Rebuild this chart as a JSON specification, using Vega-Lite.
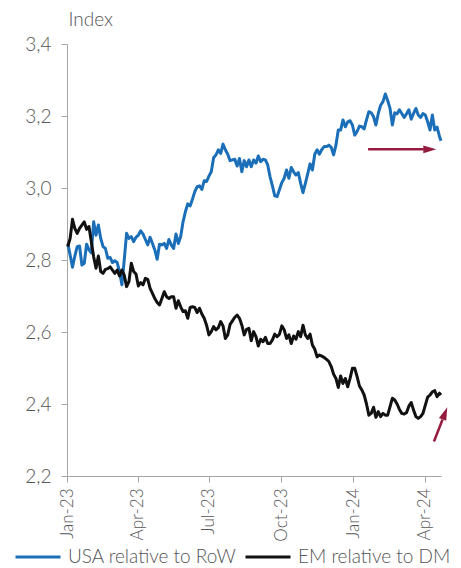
{
  "$schema": "https://vega.github.io/schema/vega-lite/v6.json",
  "width": 374,
  "height": 432,
  "autosize": {"type": "none"},
  "padding": {"left": 67, "top": 44, "right": 20, "bottom": 92},
  "config": {
    "view": {"stroke": null},
    "font": "Lato",
    "axis": {
      "grid": false,
      "domainColor": "#a6a6a6",
      "tickColor": "#a6a6a6",
      "labelColor": "#555555",
      "titleColor": "#555555",
      "labelFont": "Lato",
      "titleFont": "Lato",
      "labelFontWeight": 300,
      "titleFontWeight": 300
    }
  },
  "datasets": {
    "indices": [
      {"date": "2023-01-02", "usa": 2.846, "em": 2.837},
      {"date": "2023-01-05", "usa": 2.814, "em": 2.860},
      {"date": "2023-01-08", "usa": 2.780, "em": 2.913},
      {"date": "2023-01-11", "usa": 2.811, "em": 2.888},
      {"date": "2023-01-14", "usa": 2.837, "em": 2.874},
      {"date": "2023-01-17", "usa": 2.839, "em": 2.888},
      {"date": "2023-01-20", "usa": 2.786, "em": 2.897},
      {"date": "2023-01-23", "usa": 2.791, "em": 2.906},
      {"date": "2023-01-26", "usa": 2.844, "em": 2.885},
      {"date": "2023-01-29", "usa": 2.828, "em": 2.893},
      {"date": "2023-02-01", "usa": 2.820, "em": 2.851},
      {"date": "2023-02-04", "usa": 2.906, "em": 2.809},
      {"date": "2023-02-07", "usa": 2.869, "em": 2.777},
      {"date": "2023-02-10", "usa": 2.897, "em": 2.811},
      {"date": "2023-02-13", "usa": 2.860, "em": 2.768},
      {"date": "2023-02-16", "usa": 2.837, "em": 2.763},
      {"date": "2023-02-19", "usa": 2.832, "em": 2.774},
      {"date": "2023-02-22", "usa": 2.805, "em": 2.776},
      {"date": "2023-02-25", "usa": 2.807, "em": 2.781},
      {"date": "2023-02-28", "usa": 2.793, "em": 2.772},
      {"date": "2023-03-03", "usa": 2.798, "em": 2.763},
      {"date": "2023-03-06", "usa": 2.793, "em": 2.772},
      {"date": "2023-03-09", "usa": 2.768, "em": 2.756},
      {"date": "2023-03-12", "usa": 2.731, "em": 2.772},
      {"date": "2023-03-15", "usa": 2.800, "em": 2.758},
      {"date": "2023-03-18", "usa": 2.874, "em": 2.726},
      {"date": "2023-03-21", "usa": 2.860, "em": 2.740},
      {"date": "2023-03-24", "usa": 2.865, "em": 2.791},
      {"date": "2023-03-27", "usa": 2.851, "em": 2.768},
      {"date": "2023-03-30", "usa": 2.863, "em": 2.761},
      {"date": "2023-04-02", "usa": 2.869, "em": 2.728},
      {"date": "2023-04-05", "usa": 2.881, "em": 2.737},
      {"date": "2023-04-08", "usa": 2.872, "em": 2.731},
      {"date": "2023-04-11", "usa": 2.857, "em": 2.749},
      {"date": "2023-04-14", "usa": 2.842, "em": 2.746},
      {"date": "2023-04-17", "usa": 2.863, "em": 2.721},
      {"date": "2023-04-20", "usa": 2.846, "em": 2.707},
      {"date": "2023-04-23", "usa": 2.828, "em": 2.693},
      {"date": "2023-04-26", "usa": 2.802, "em": 2.682},
      {"date": "2023-04-29", "usa": 2.844, "em": 2.675},
      {"date": "2023-05-02", "usa": 2.842, "em": 2.693},
      {"date": "2023-05-05", "usa": 2.846, "em": 2.712},
      {"date": "2023-05-08", "usa": 2.832, "em": 2.698},
      {"date": "2023-05-11", "usa": 2.857, "em": 2.693},
      {"date": "2023-05-14", "usa": 2.842, "em": 2.698},
      {"date": "2023-05-17", "usa": 2.832, "em": 2.698},
      {"date": "2023-05-20", "usa": 2.872, "em": 2.666},
      {"date": "2023-05-23", "usa": 2.846, "em": 2.687},
      {"date": "2023-05-26", "usa": 2.865, "em": 2.670},
      {"date": "2023-05-29", "usa": 2.906, "em": 2.657},
      {"date": "2023-06-01", "usa": 2.934, "em": 2.659},
      {"date": "2023-06-04", "usa": 2.956, "em": 2.638},
      {"date": "2023-06-07", "usa": 2.950, "em": 2.668},
      {"date": "2023-06-10", "usa": 2.969, "em": 2.670},
      {"date": "2023-06-13", "usa": 2.990, "em": 2.668},
      {"date": "2023-06-16", "usa": 3.004, "em": 2.654},
      {"date": "2023-06-19", "usa": 3.006, "em": 2.666},
      {"date": "2023-06-22", "usa": 2.996, "em": 2.650},
      {"date": "2023-06-25", "usa": 3.020, "em": 2.638},
      {"date": "2023-06-28", "usa": 3.018, "em": 2.619},
      {"date": "2023-07-01", "usa": 3.033, "em": 2.592},
      {"date": "2023-07-04", "usa": 3.045, "em": 2.601},
      {"date": "2023-07-07", "usa": 3.084, "em": 2.615},
      {"date": "2023-07-10", "usa": 3.092, "em": 2.606},
      {"date": "2023-07-13", "usa": 3.106, "em": 2.612},
      {"date": "2023-07-16", "usa": 3.096, "em": 2.629},
      {"date": "2023-07-19", "usa": 3.122, "em": 2.617},
      {"date": "2023-07-22", "usa": 3.106, "em": 2.582},
      {"date": "2023-07-25", "usa": 3.094, "em": 2.592},
      {"date": "2023-07-28", "usa": 3.076, "em": 2.621},
      {"date": "2023-07-31", "usa": 3.078, "em": 2.631},
      {"date": "2023-08-03", "usa": 3.080, "em": 2.641},
      {"date": "2023-08-06", "usa": 3.061, "em": 2.647},
      {"date": "2023-08-09", "usa": 3.082, "em": 2.638},
      {"date": "2023-08-12", "usa": 3.045, "em": 2.619},
      {"date": "2023-08-15", "usa": 3.076, "em": 2.592},
      {"date": "2023-08-18", "usa": 3.059, "em": 2.607},
      {"date": "2023-08-21", "usa": 3.078, "em": 2.610},
      {"date": "2023-08-24", "usa": 3.059, "em": 2.576},
      {"date": "2023-08-27", "usa": 3.078, "em": 2.601},
      {"date": "2023-08-30", "usa": 3.069, "em": 2.587},
      {"date": "2023-09-02", "usa": 3.089, "em": 2.561},
      {"date": "2023-09-05", "usa": 3.073, "em": 2.580},
      {"date": "2023-09-08", "usa": 3.080, "em": 2.573},
      {"date": "2023-09-11", "usa": 3.078, "em": 2.585},
      {"date": "2023-09-14", "usa": 3.064, "em": 2.568},
      {"date": "2023-09-17", "usa": 3.031, "em": 2.568},
      {"date": "2023-09-20", "usa": 3.006, "em": 2.578},
      {"date": "2023-09-23", "usa": 2.978, "em": 2.594},
      {"date": "2023-09-26", "usa": 2.976, "em": 2.587},
      {"date": "2023-09-29", "usa": 2.996, "em": 2.594},
      {"date": "2023-10-02", "usa": 3.015, "em": 2.617},
      {"date": "2023-10-05", "usa": 3.027, "em": 2.606},
      {"date": "2023-10-08", "usa": 3.050, "em": 2.582},
      {"date": "2023-10-11", "usa": 3.027, "em": 2.592},
      {"date": "2023-10-14", "usa": 3.057, "em": 2.568},
      {"date": "2023-10-17", "usa": 3.045, "em": 2.589},
      {"date": "2023-10-20", "usa": 3.036, "em": 2.580},
      {"date": "2023-10-23", "usa": 3.043, "em": 2.601},
      {"date": "2023-10-26", "usa": 3.013, "em": 2.587},
      {"date": "2023-10-29", "usa": 2.987, "em": 2.619},
      {"date": "2023-11-01", "usa": 3.013, "em": 2.592},
      {"date": "2023-11-04", "usa": 3.039, "em": 2.582},
      {"date": "2023-11-07", "usa": 3.067, "em": 2.594},
      {"date": "2023-11-10", "usa": 3.050, "em": 2.564},
      {"date": "2023-11-13", "usa": 3.094, "em": 2.552},
      {"date": "2023-11-16", "usa": 3.106, "em": 2.531},
      {"date": "2023-11-19", "usa": 3.094, "em": 2.536},
      {"date": "2023-11-22", "usa": 3.107, "em": 2.533},
      {"date": "2023-11-25", "usa": 3.115, "em": 2.529},
      {"date": "2023-11-28", "usa": 3.115, "em": 2.524},
      {"date": "2023-12-01", "usa": 3.119, "em": 2.518},
      {"date": "2023-12-04", "usa": 3.113, "em": 2.504},
      {"date": "2023-12-07", "usa": 3.092, "em": 2.483},
      {"date": "2023-12-10", "usa": 3.119, "em": 2.471},
      {"date": "2023-12-13", "usa": 3.161, "em": 2.446},
      {"date": "2023-12-16", "usa": 3.161, "em": 2.478},
      {"date": "2023-12-19", "usa": 3.189, "em": 2.457},
      {"date": "2023-12-22", "usa": 3.170, "em": 2.471},
      {"date": "2023-12-25", "usa": 3.184, "em": 2.448},
      {"date": "2023-12-28", "usa": 3.187, "em": 2.471},
      {"date": "2023-12-31", "usa": 3.175, "em": 2.499},
      {"date": "2024-01-03", "usa": 3.147, "em": 2.499},
      {"date": "2024-01-06", "usa": 3.157, "em": 2.476},
      {"date": "2024-01-09", "usa": 3.172, "em": 2.450},
      {"date": "2024-01-12", "usa": 3.170, "em": 2.439},
      {"date": "2024-01-15", "usa": 3.164, "em": 2.425},
      {"date": "2024-01-18", "usa": 3.189, "em": 2.400},
      {"date": "2024-01-21", "usa": 3.212, "em": 2.369},
      {"date": "2024-01-24", "usa": 3.209, "em": 2.374},
      {"date": "2024-01-27", "usa": 3.198, "em": 2.391},
      {"date": "2024-01-30", "usa": 3.175, "em": 2.363},
      {"date": "2024-02-02", "usa": 3.207, "em": 2.379},
      {"date": "2024-02-05", "usa": 3.230, "em": 2.365},
      {"date": "2024-02-08", "usa": 3.240, "em": 2.374},
      {"date": "2024-02-11", "usa": 3.261, "em": 2.369},
      {"date": "2024-02-14", "usa": 3.243, "em": 2.369},
      {"date": "2024-02-17", "usa": 3.221, "em": 2.393},
      {"date": "2024-02-20", "usa": 3.175, "em": 2.416},
      {"date": "2024-02-23", "usa": 3.209, "em": 2.411},
      {"date": "2024-02-26", "usa": 3.206, "em": 2.400},
      {"date": "2024-02-29", "usa": 3.217, "em": 2.385},
      {"date": "2024-03-03", "usa": 3.207, "em": 2.374},
      {"date": "2024-03-06", "usa": 3.196, "em": 2.372},
      {"date": "2024-03-09", "usa": 3.206, "em": 2.376},
      {"date": "2024-03-12", "usa": 3.217, "em": 2.394},
      {"date": "2024-03-15", "usa": 3.191, "em": 2.404},
      {"date": "2024-03-18", "usa": 3.207, "em": 2.383},
      {"date": "2024-03-21", "usa": 3.221, "em": 2.365},
      {"date": "2024-03-24", "usa": 3.203, "em": 2.360},
      {"date": "2024-03-27", "usa": 3.196, "em": 2.365},
      {"date": "2024-03-30", "usa": 3.207, "em": 2.374},
      {"date": "2024-04-02", "usa": 3.203, "em": 2.397},
      {"date": "2024-04-05", "usa": 3.184, "em": 2.419},
      {"date": "2024-04-08", "usa": 3.161, "em": 2.425},
      {"date": "2024-04-11", "usa": 3.203, "em": 2.434},
      {"date": "2024-04-14", "usa": 3.161, "em": 2.437},
      {"date": "2024-04-17", "usa": 3.169, "em": 2.420},
      {"date": "2024-04-20", "usa": 3.144, "em": 2.430},
      {"date": "2024-04-22", "usa": 3.131, "em": 2.425}
    ],
    "arrowShafts": [
      {"date": "2024-01-20", "value": 3.1075, "date2": "2024-03-31", "value2": 3.1075},
      {"date": "2024-04-13", "value": 2.296, "date2": "2024-04-24", "value2": 2.357}
    ],
    "arrowTipFlat": [
      {"date": "2024-04-16", "value": 3.1075}
    ],
    "arrowTipRising": [
      {"date": "2024-04-30", "value": 2.391}
    ]
  },
  "layer": [
    {
      "data": {"name": "indices"},
      "transform": [{"fold": ["usa", "em"], "as": ["series", "value"]}],
      "mark": {"type": "line", "strokeWidth": 3, "strokeJoin": "round"},
      "encoding": {
        "x": {
          "field": "date",
          "type": "temporal",
          "scale": {
            "type": "utc",
            "domain": [
              {"year": 2023, "month": 1, "date": 1, "utc": true},
              {"year": 2024, "month": 4, "date": 22, "utc": true}
            ]
          },
          "axis": {
            "title": null,
            "format": "%b-%y",
            "tickCount": {"interval": "month", "step": 3},
            "labelAngle": -90,
            "labelFontSize": 17,
            "labelPadding": 6,
            "labelFlush": false,
            "labelOverlap": false,
            "tickSize": 6
          }
        },
        "y": {
          "field": "value",
          "type": "quantitative",
          "scale": {"domain": [2.2, 3.4], "nice": false, "zero": false},
          "axis": {
            "title": "Index",
            "titleAngle": 0,
            "titleAlign": "left",
            "titleBaseline": "alphabetic",
            "titleX": 1,
            "titleY": -19,
            "titleFontSize": 19,
            "values": [2.2, 2.4, 2.6, 2.8, 3.0, 3.2, 3.4],
            "labelExpr": "replace(format(datum.value, '.1f'), '.', ',')",
            "labelFontSize": 19,
            "labelPadding": 10,
            "tickSize": 6
          }
        },
        "color": {
          "field": "series",
          "type": "nominal",
          "scale": {"domain": ["usa", "em"], "range": ["#1b6fb8", "#111111"]},
          "legend": {
            "title": null,
            "orient": "none",
            "direction": "horizontal",
            "legendX": -53,
            "legendY": 489,
            "symbolType": "stroke",
            "symbolSize": 2025,
            "symbolStrokeWidth": 3,
            "labelFont": "Lato",
            "labelFontWeight": 300,
            "labelFontSize": 19,
            "labelColor": "#555555",
            "labelOffset": 6,
            "labelLimit": 0,
            "columnPadding": 2,
            "labelExpr": "datum.label == 'usa' ? 'USA relative to RoW' : 'EM relative to DM'"
          }
        }
      }
    },
    {
      "data": {"name": "arrowShafts"},
      "mark": {"type": "rule", "color": "#951b3f", "strokeWidth": 2.5},
      "encoding": {
        "x": {"field": "date", "type": "temporal", "axis": {"title": null}},
        "x2": {"field": "date2"},
        "y": {"field": "value", "type": "quantitative", "axis": {"title": "Index"}},
        "y2": {"field": "value2"}
      }
    },
    {
      "data": {"name": "arrowTipFlat"},
      "mark": {"type": "point", "shape": "M0,0L-2,-0.6L-2,0.6Z", "size": 169, "filled": true, "opacity": 1, "color": "#951b3f", "angle": 0},
      "encoding": {
        "x": {"field": "date", "type": "temporal", "axis": {"title": null}},
        "y": {"field": "value", "type": "quantitative", "axis": {"title": "Index"}}
      }
    },
    {
      "data": {"name": "arrowTipRising"},
      "mark": {"type": "point", "shape": "M0,0L-2,-0.6L-2,0.6Z", "size": 169, "filled": true, "opacity": 1, "color": "#951b3f", "angle": -68.75},
      "encoding": {
        "x": {"field": "date", "type": "temporal", "axis": {"title": null}},
        "y": {"field": "value", "type": "quantitative", "axis": {"title": "Index"}}
      }
    }
  ]
}
